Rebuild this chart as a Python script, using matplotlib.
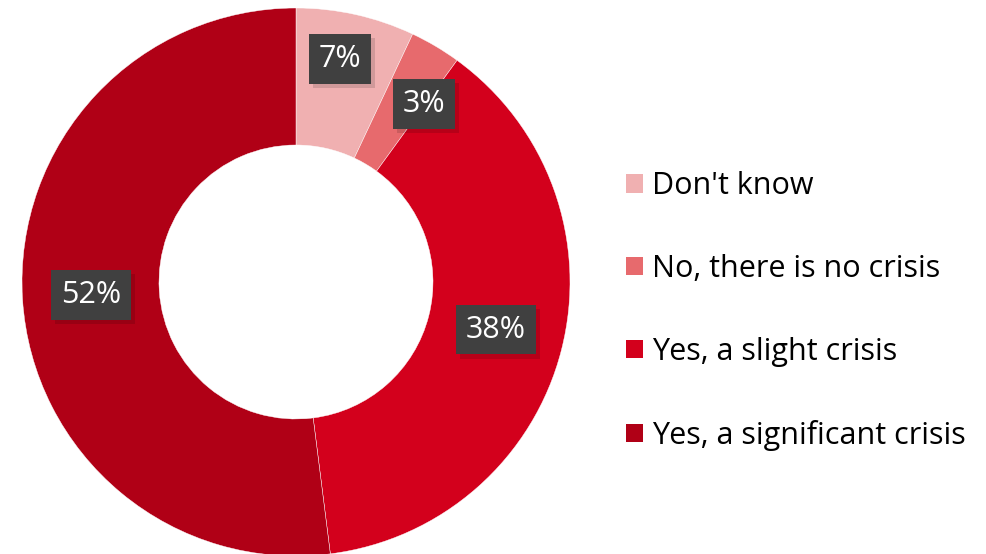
import matplotlib
matplotlib.use("Agg")
import matplotlib.pyplot as plt
from matplotlib.patches import Rectangle
import matplotlib.patheffects as pe
import numpy as np

categories = ["Don't know", "No, there is no crisis", "Yes, a slight crisis", "Yes, a significant crisis"]
values = [7, 3, 38, 52]
labels = ["7%", "3%", "38%", "52%"]
colors = ["#F0B0B1", "#E76A6D", "#D3001C", "#B00016"]

plt.rcParams["font.family"] = ["Open Sans", "DejaVu Sans"]

fig = plt.figure(figsize=(9.87, 5.54), dpi=100)
ax = fig.add_axes([22 / 987, -2 / 554, 548 / 987, 548 / 554])

wedges, _ = ax.pie(values, colors=colors, startangle=90, counterclock=False,
                   radius=1, wedgeprops=dict(width=0.5, edgecolor="white", linewidth=0.3))
ax.set_aspect("auto")
ax.set_xlim(-1, 1)
ax.set_ylim(-1, 1)
ax.axis("off")

# label radius (fraction of outer radius) and angle nudges, to match the chart's placement
rad = [0.83, 0.80, 0.75, 0.75]
nudge = [1.5, -5, 1, 0]
for w, lab, r, dn in zip(wedges, labels, rad, nudge):
    ang = np.deg2rad((w.theta1 + w.theta2) / 2 + dn)
    x, y = r * np.cos(ang), r * np.sin(ang)
    t = ax.text(x, y, lab, ha="center", va="center", fontsize=22, color="white",
                bbox=dict(boxstyle="square,pad=0.32", fc="#404040", ec="none"))
    t.get_bbox_patch().set_path_effects(
        [pe.SimplePatchShadow(offset=(3, -3), shadow_rgbFace="black", alpha=0.13), pe.Normal()])

handles = [Rectangle((0, 0), 1, 1, fc=c, ec="none") for c in colors]
fig.legend(handles, categories, loc="center left", bbox_to_anchor=(626 / 987, 243 / 554),
           frameon=False, fontsize=22, handlelength=0.55, handleheight=0.55,
           handletextpad=0.3, labelspacing=1.73, borderaxespad=0, borderpad=0)

fig.savefig("out.png", dpi=100)
